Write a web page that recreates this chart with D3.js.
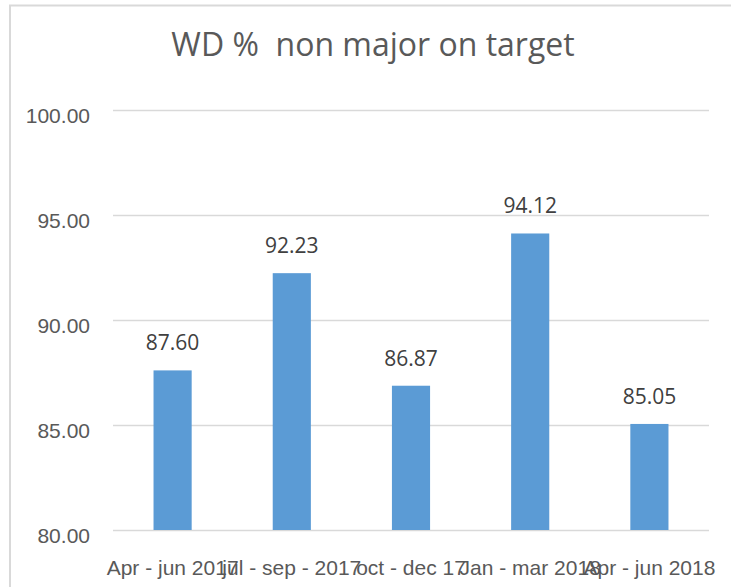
<!DOCTYPE html>
<html>
<head>
<meta charset="utf-8">
<style>
    body { margin: 0; background: #fff; }
    svg { display: block; font-family: 'Open Sans', sans-serif; }
    .grid line { stroke: #d9d9d9; stroke-width: 1.5; }
    .grid .domain { display: none; }
    .y text, .x text { fill: #595959; font-size: 21px; }
    .y .tick line, .x .tick line { display: none; }
    .x .domain, .y .domain { display: none; }
</style>
</head>
<body>
<svg width="731" height="587"></svg>
<script src="https://d3js.org/d3.v7.min.js"></script>
<script>
    // chart values
    let categories = ["Apr - jun 2017", "jul - sep - 2017", "oct - dec 17", "Jan - mar 2018", "Apr - jun 2018"];
    let values = [87.60, 92.23, 86.87, 94.12, 85.05];
    let yTicks = [80, 85, 90, 95, 100];
    let title = "WD %  non major on target";

    let margin = { top: 110, right: 22, bottom: 57, left: 113 };
    let width = 731, height = 587;

    let svg = d3.select("svg");

    // chart area border (top + left visible)
    svg.append("rect")
        .attr("x", 10)
        .attr("y", 5.5)
        .attr("width", 740)
        .attr("height", 600)
        .style("fill", "none")
        .style("stroke", "#d9d9d9")
        .style("stroke-width", 2);

    let x = d3.scaleBand()
        .domain(categories)
        .range([margin.left, width - margin.right])
        .paddingInner(0.68)
        .paddingOuter(0.34);

    let y = d3.scaleLinear()
        .domain([80, 100])
        .range([height - margin.bottom, margin.top]);

    // gridlines
    svg.append("g")
        .attr("class", "grid")
        .attr("transform", `translate(${margin.left},0)`)
        .call(d3.axisLeft(y).tickValues(yTicks).tickSize(-(width - margin.left - margin.right)).tickFormat(""));

    // y labels
    svg.append("g")
        .attr("class", "y")
        .attr("transform", `translate(90,0)`)
        .call(d3.axisLeft(y).tickValues(yTicks).tickSize(0).tickPadding(0).tickFormat(d3.format(".2f")))
        .selectAll("text")
        .attr("dy", "0.6em");

    // bars
    svg.selectAll(".bar")
        .data(values)
        .enter()
        .append("rect")
        .attr("class", "bar")
        .attr("x", (d, i) => x(categories[i]))
        .attr("width", x.bandwidth())
        .attr("y", d => y(d))
        .attr("height", d => y(80) - y(d))
        .style("fill", "#5b9bd5");

    // value labels
    svg.selectAll(".lbl")
        .data(values)
        .enter()
        .append("text")
        .attr("class", "lbl")
        .attr("x", (d, i) => x(categories[i]) + x.bandwidth() / 2)
        .attr("y", d => y(d) - 20)
        .attr("text-anchor", "middle")
        .style("font-size", "21px")
        .style("fill", "#404040")
        .text(d => d3.format(".2f")(d));

    // x labels
    svg.append("g")
        .attr("class", "x")
        .attr("transform", `translate(0,${height - margin.bottom})`)
        .call(d3.axisBottom(x).tickSize(0).tickPadding(0))
        .selectAll("text")
        .attr("dy", null)
        .attr("y", 45);

    // title
    svg.append("text")
        .attr("x", 373)
        .attr("y", 56)
        .attr("text-anchor", "middle")
        .style("font-size", "32px")
        .style("fill", "#595959")
        .style("white-space", "pre")
        .text(title);
</script>
</body>
</html>
